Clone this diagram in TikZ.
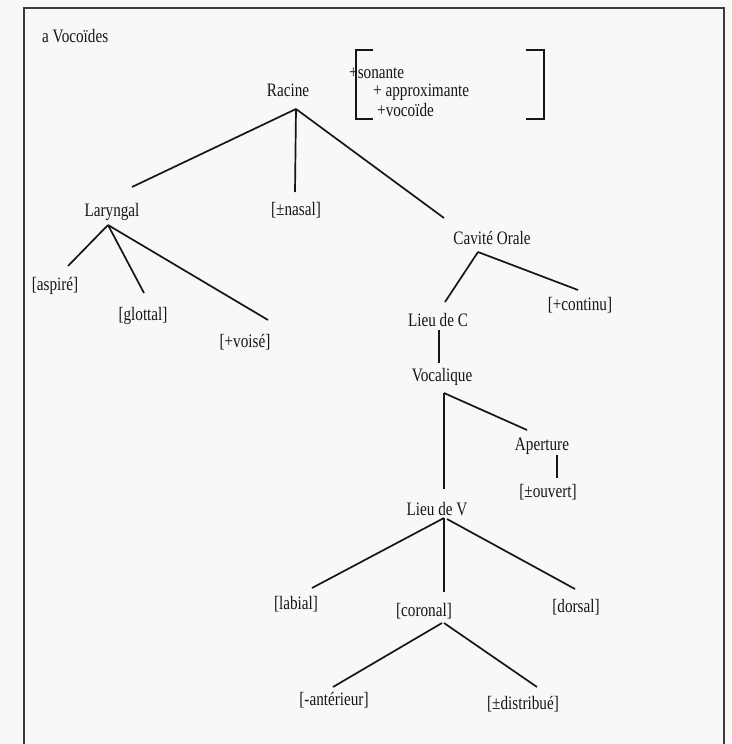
\documentclass[tikz,border=0pt]{standalone}
\usepackage{fontspec}
\setmainfont[FakeStretch=0.8]{Liberation Serif}
\usetikzlibrary{calc}
\definecolor{bgc}{RGB}{248,248,248}
\definecolor{ink}{RGB}{22,22,22}
\definecolor{framec}{RGB}{60,60,60}
\tikzset{
  lbl/.style={inner sep=0pt, text=ink, font=\fontsize{19}{22}\selectfont},
  feat/.style={lbl, anchor=west},
  edge/.style={draw=ink, line width=1.7pt},
  brk/.style={draw=ink, line width=1.7pt},
}
\begin{document}
\begin{tikzpicture}[x=1pt,y=-1pt]
\useasboundingbox (0,0) rectangle (731,744);
\fill[bgc] (0,0) rectangle (731,744);
\draw[framec, line width=1.8pt] (24,748) -- (24,8) -- (724,8) -- (724,748);

\node[feat] (title) at (42,36) {a Vocoïdes};

\node[lbl] (rac) at (288,90) {Racine};
\node[feat] (f1) at (349,73) {+sonante};
\node[feat] (f2) at (373,92) {+ approximante};
\node[feat] (f3) at (377,110) {+vocoïde};
\coordinate (bl) at (356,84);
\coordinate (br) at (544,84);
\draw[brk] ($(bl)+(17,-34)$) -- ($(bl)+(0,-34)$) -- ($(bl)+(0,35)$) -- ($(bl)+(17,35)$);
\draw[brk] ($(br)+(-18,-34)$) -- ($(br)+(0,-34)$) -- ($(br)+(0,35)$) -- ($(br)+(-18,35)$);

\node[lbl] (lar) at (112,212) {Laryngal};
\node[lbl] (nas) at (296,210) {[±nasal]};
\node[lbl] (cav) at (492,238) {Cavité Orale};

\node[lbl] (asp) at (55,286) {[aspiré]};
\node[lbl] (glo) at (143,316) {[glottal]};
\node[lbl] (voi) at (245,342) {[+voisé]};

\node[lbl] (lc) at (438,320) {Lieu de C};
\node[lbl] (cont) at (580,305) {[+continu]};
\node[lbl] (voc) at (442,377) {Vocalique};
\node[lbl] (ape) at (542,446) {Aperture};
\node[lbl] (ouv) at (548,492) {[±ouvert]};
\node[lbl] (lv) at (437,509) {Lieu de V};
\node[lbl] (lab) at (296,604) {[labial]};
\node[lbl] (cor) at (424,611) {[coronal]};
\node[lbl] (dor) at (576,607) {[dorsal]};
\node[lbl] (ant) at (334,700) {[-antérieur]};
\node[lbl] (dis) at (523,704) {[±distribué]};

% Racine
\draw[edge] ($(rac)+(8,19)$) -- ($(lar)+(20,-25)$);
\draw[edge] ($(rac)+(8,19)$) -- ($(nas)+(-1,-18)$);
\draw[edge] ($(rac)+(8,19)$) -- ($(cav)+(-48,-20)$);
% Laryngal
\draw[edge] ($(lar)+(-4,13)$) -- ($(asp)+(13,-20)$);
\draw[edge] ($(lar)+(-4,13)$) -- ($(glo)+(1,-23)$);
\draw[edge] ($(lar)+(-4,13)$) -- ($(voi)+(23,-22)$);
% Cavite Orale
\draw[edge] ($(cav)+(-14,14)$) -- ($(lc)+(7,-18)$);
\draw[edge] ($(cav)+(-14,14)$) -- ($(cont)+(-2,-15)$);
% Lieu de C
\draw[edge] ($(lc)+(1,10)$) -- ($(voc)+(-3,-14)$);
% Vocalique
\draw[edge] ($(voc)+(2,16)$) -- ($(lv)+(7,-20)$);
\draw[edge] ($(voc)+(2,16)$) -- ($(ape)+(-15,-16)$);
% Aperture
\draw[edge] ($(ape)+(15,9)$) -- ($(ouv)+(9,-14)$);
% Lieu de V
\draw[edge] ($(lv)+(7,9)$) -- ($(lab)+(16,-16)$);
\draw[edge] ($(lv)+(7,9)$) -- ($(cor)+(20,-19)$);
\draw[edge] ($(lv)+(10,10)$) -- ($(dor)+(-1,-18)$);
% coronal
\draw[edge] ($(cor)+(18,12)$) -- ($(ant)+(-1,-13)$);
\draw[edge] ($(cor)+(20,12)$) -- ($(dis)+(14,-17)$);
\end{tikzpicture}
\end{document}
